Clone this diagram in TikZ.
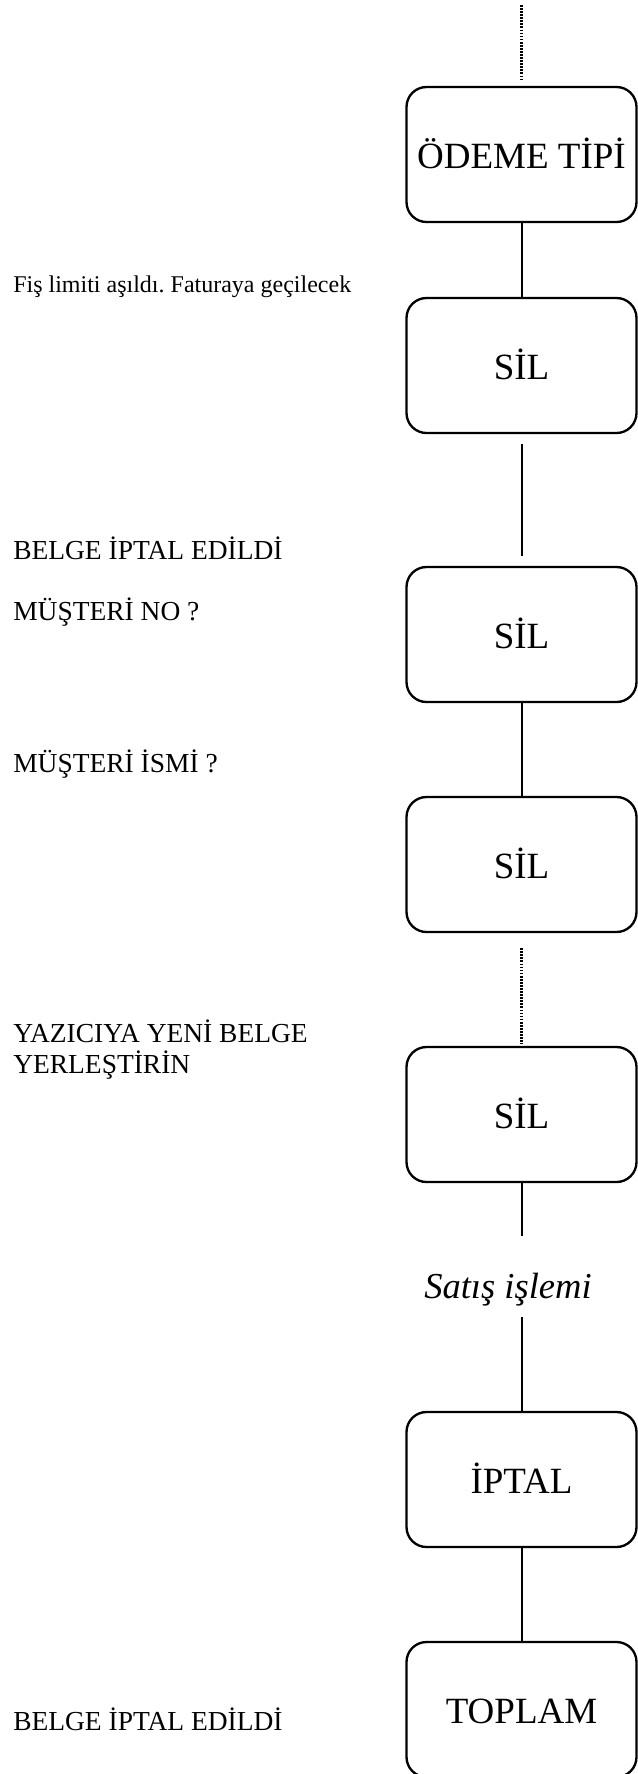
\documentclass[tikz,border=0pt]{standalone}
\usepackage{fontspec}
\setmainfont{Liberation Serif}
\usetikzlibrary{positioning}
\frenchspacing

\begin{document}
\begin{tikzpicture}[x=0.75pt,y=-0.75pt,
  islem/.style={draw,line width=1.75pt,rounded corners=15pt,minimum width=172.5pt,minimum height=101.25pt,inner sep=0pt,font=\fontsize{27.75}{33}\selectfont,text height=20.8pt,text depth=0pt},
  mesaj/.style={anchor=base west,inner sep=0pt,font=\fontsize{20.6}{23.25}\selectfont,align=left},
  baglanti/.style={line width=1.5pt},
  noktali/.style={line width=1.6pt,dash pattern=on 1.3pt off 1pt}]
\useasboundingbox (0,0) rectangle (637,1774);

\node[islem] (odeme) at (521.5,154.5) {ÖDEME TİPİ};
\node[islem] (sil1) at (521.5,365.5) {SİL};
\node[islem] (sil2) at (521.5,634.5) {SİL};
\node[islem] (sil3) at (521.5,864.5) {SİL};
\node[islem] (sil4) at (521.5,1114.5) {SİL};
\node[anchor=base,inner sep=0pt,font=\fontsize{27.4}{30}\selectfont\itshape] (satis) at (508,1298) {Satış işlemi};
\node[islem] (iptal) at (521.5,1479.5) {İPTAL};
\node[islem] (toplam) at (521.5,1709.5) {TOPLAM};
\coordinate (ust) at (521.5,5);

\node[mesaj,font=\fontsize{18}{21}\selectfont] (fis) at (13,292) {Fiş limiti aşıldı. Faturaya geçilecek};
\node[mesaj] (belge1) at (13,559) {BELGE İPTAL EDİLDİ};
\node[mesaj] (musno) at (13,620) {MÜŞTERİ NO ?};
\node[mesaj] (musisim) at (13,772) {MÜŞTERİ İSMİ ?};
\node[mesaj] (yazici) at (13,1073) {YAZICIYA YENİ BELGE\\YERLEŞTİRİN};
\node[mesaj] (belge2) at (13,1730) {BELGE İPTAL EDİLDİ};

\path[baglanti]
(odeme) edge (sil1)
(sil1) edge[shorten <=7.5pt,shorten >=7.5pt] (sil2)
(sil2) edge (sil3)
(iptal) edge (toplam)
;
\path[baglanti]
(sil4.south) edge[shorten >=27pt] (satis.north-|sil4.south)
(satis.south-|iptal.north) edge[shorten <=8pt] (iptal.north)
;
\path[noktali]
(ust) edge[shorten >=4.5pt] (odeme.north)
(sil3) edge[shorten <=11.25pt,shorten >=1.5pt] (sil4)
;
\end{tikzpicture}
\end{document}
